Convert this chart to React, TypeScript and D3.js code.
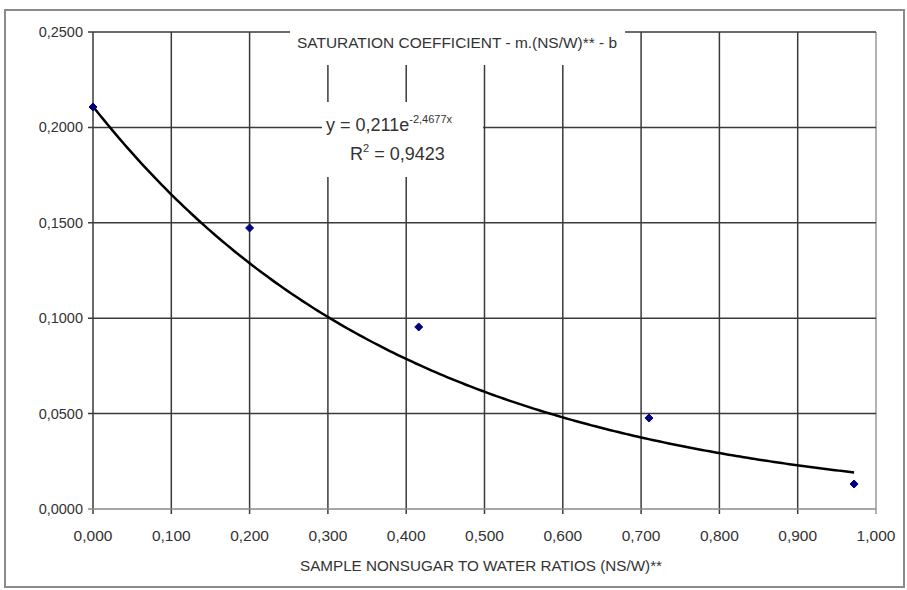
import React from "react";
import * as d3 from "d3";

const xTicks = [0, 0.1, 0.2, 0.3, 0.4, 0.5, 0.6, 0.7, 0.8, 0.9, 1.0];
const yTicks = [0, 0.05, 0.1, 0.15, 0.2, 0.25];
const sampleX = [0.0, 0.2, 0.416, 0.71, 0.972];
const sampleY = [0.2107, 0.1473, 0.0954, 0.0477, 0.0131];
const fitA = 0.211;
const fitB = -2.4677;
const titleText = "SATURATION COEFFICIENT - m.(NS/W)** - b";
const xAxisTitle = "SAMPLE NONSUGAR TO WATER RATIOS (NS/W)**";

export default function App() {
  const W = 907, H = 590;
  const x = d3.scaleLinear().domain([0, 1]).range([93, 876]);
  const y = d3.scaleLinear().domain([0, 0.25]).range([509, 32]);
  const fmtX = (v: number) => d3.format(".3f")(v).replace(".", ",");
  const fmtY = (v: number) => d3.format(".4f")(v).replace(".", ",");
  const xmax = d3.max(sampleX) as number;
  const curveX = d3.range(0, 201).map((i) => (i / 200) * xmax);
  const line = d3
    .line<number>()
    .x((d) => x(d))
    .y((d) => y(fitA * Math.exp(fitB * d)))
    .curve(d3.curveLinear);
  const font = "'Liberation Sans', Arial, sans-serif";
  const grid = "#3a3a3a";
  const txt = "#333";
  return (
    <svg
      width={W}
      height={H}
      style={{ position: "absolute", left: 0, top: 0, display: "block", background: "#fff" }}
    >
      <rect x={0} y={0} width={W} height={H} fill="#fff" />
      <rect x={5} y={10} width={899} height={577} fill="#fff" stroke="#8a8a8a" strokeWidth={2} />
      {/* vertical grid */}
      {xTicks.map((t, i) => (
        <line
          key={"vx" + i}
          x1={x(t)}
          x2={x(t)}
          y1={y(0.25)}
          y2={y(0) + 5}
          stroke={i === xTicks.length - 1 ? "#9a9a9a" : grid}
          strokeWidth={1.5}
        />
      ))}
      {/* horizontal grid */}
      {yTicks.map((t, i) => (
        <line
          key={"hy" + i}
          x1={x(0) - 5}
          x2={x(1)}
          y1={y(t)}
          y2={y(t)}
          stroke={i === 0 ? "#8a8a8a" : grid}
          strokeWidth={1.5}
        />
      ))}
      {/* white boxes behind labels */}
      <rect x={290} y={25} width={335} height={40} fill="#fff" />
      <rect x={322} y={102} width={161} height={75} fill="#fff" />
      {/* fit curve */}
      <path d={line(curveX) || ""} fill="none" stroke="#000" strokeWidth={2.5} />
      {/* points */}
      {sampleX.map((v, i) => (
        <path
          key={"p" + i}
          transform={`translate(${x(v)},${y(sampleY[i])})`}
          d="M0,-4L4,0L0,4L-4,0Z"
          fill="#000080"
          stroke="#000080"
          strokeWidth={1}
        />
      ))}
      {/* y tick labels */}
      {yTicks.map((t, i) => (
        <text
          key={"yl" + i}
          x={83}
          y={y(t) + 5}
          textAnchor="end"
          fontFamily={font}
          fontSize={14.5}
          fill={txt}
        >
          {fmtY(t)}
        </text>
      ))}
      {/* x tick labels */}
      {xTicks.map((t, i) => (
        <text
          key={"xl" + i}
          x={x(t)}
          y={541}
          textAnchor="middle"
          fontFamily={font}
          fontSize={15.5}
          fill={txt}
        >
          {fmtX(t)}
        </text>
      ))}
      {/* chart title */}
      <text
        x={297}
        y={48}
        fontFamily={font}
        fontSize={14}
        fill={txt}
        textLength={320}
        lengthAdjust="spacingAndGlyphs"
      >
        {titleText}
      </text>
      {/* x axis title */}
      <text
        x={300}
        y={571}
        fontFamily={font}
        fontSize={14}
        fill={txt}
        textLength={362}
        lengthAdjust="spacingAndGlyphs"
      >
        {xAxisTitle}
      </text>
      {/* equation */}
      <text x={326} y={131} fontFamily={font} fontSize={18} fill={txt}>
        {"y = 0,211e"}
        <tspan fontSize={11} dy={-8}>
          {"-2,4677x"}
        </tspan>
      </text>
      <text x={350} y={160} fontFamily={font} fontSize={18} fill={txt}>
        {"R"}
        <tspan fontSize={11} dy={-8}>
          {"2"}
        </tspan>
        <tspan dy={8}>{" = 0,9423"}</tspan>
      </text>
    </svg>
  );
}
